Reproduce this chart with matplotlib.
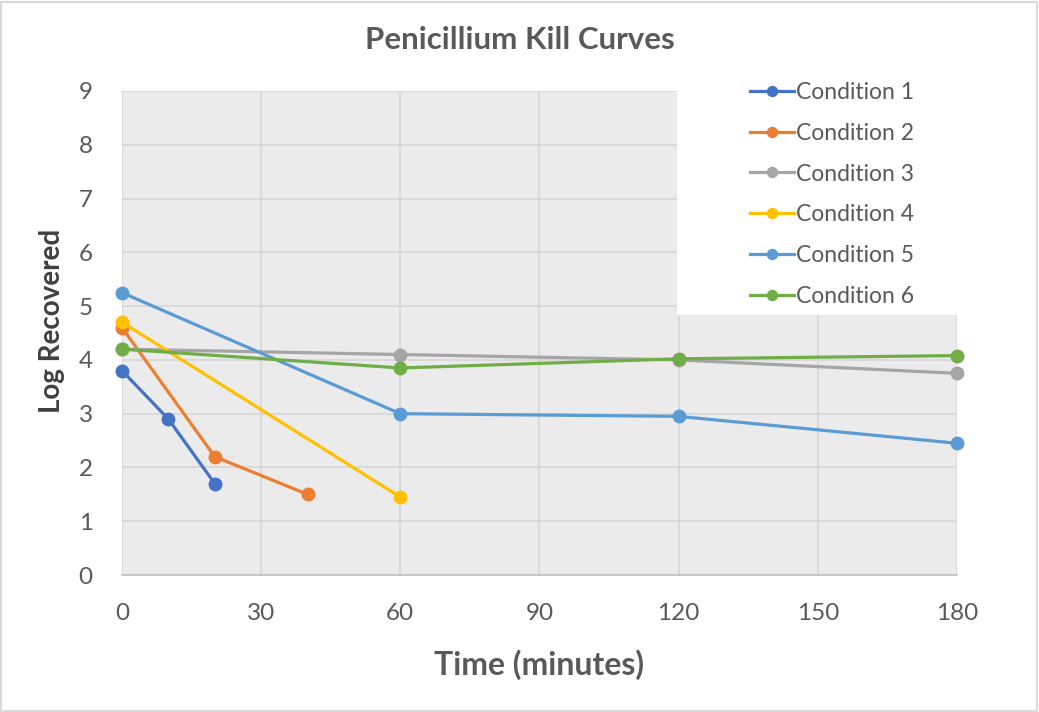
import matplotlib
matplotlib.use("Agg")
import matplotlib.pyplot as plt
from matplotlib.patches import Rectangle

plt.rcParams['font.family'] = ['Lato', 'DejaVu Sans']

# Time points (minutes) and log counts recovered for each condition
t_c1 = [0, 10, 20]
y_c1 = [3.8, 2.9, 1.7]

t_c2 = [0, 20, 40]
y_c2 = [4.6, 2.2, 1.5]

t_c3 = [0, 60, 120, 180]
y_c3 = [4.2, 4.1, 4.0, 3.75]

t_c4 = [0, 60]
y_c4 = [4.7, 1.45]

t_c5 = [0, 60, 120, 180]
y_c5 = [5.25, 3.0, 2.95, 2.45]

t_c6 = [0, 60, 120, 180]
y_c6 = [4.2, 3.85, 4.02, 4.08]

series_names = ["Condition 1", "Condition 2", "Condition 3",
                "Condition 4", "Condition 5", "Condition 6"]
series_colors = ["#4472C4", "#ED7D31", "#A5A5A5", "#FFC000", "#5B9BD5", "#70AD47"]

x_ticks = [0, 30, 60, 90, 120, 150, 180]
y_ticks = list(range(0, 10))

fig = plt.figure(figsize=(10.39, 7.12), dpi=100)
fig.patch.set_facecolor("white")
# thin grey chart border
fig.add_artist(Rectangle((0.001, 0.001), 0.997, 0.996, transform=fig.transFigure,
                         fill=False, edgecolor="#D9D9D9", linewidth=1.5))

ax = fig.add_axes([0.1174, 0.1924, 0.8036, 0.6798])
ax.set_facecolor("#EBEBEB")
ax.set_xlim(0, 180)
ax.set_ylim(0, 9)
ax.set_xticks(x_ticks)
ax.set_yticks(y_ticks)
ax.grid(True, color="#D6D6D6", linewidth=1.2)
ax.set_axisbelow(True)
for side in ["top", "right", "left"]:
    ax.spines[side].set_visible(False)
ax.spines["bottom"].set_color("#BFBFBF")
ax.spines["bottom"].set_linewidth(1.2)
ax.tick_params(length=0, labelsize=17.5, labelcolor="#595959")
ax.tick_params(axis="x", pad=20)
ax.tick_params(axis="y", pad=21)

data = [(t_c1, y_c1), (t_c2, y_c2), (t_c3, y_c3),
        (t_c4, y_c4), (t_c5, y_c5), (t_c6, y_c6)]
handles = []
for (t, y), name, c in zip(data, series_names, series_colors):
    h, = ax.plot(t, y, color=c, linewidth=2.3, marker="o", markersize=9,
                 label=name, clip_on=False, zorder=3)
    handles.append(h)

# white panel behind the legend
ax.add_patch(Rectangle((0.6647, 0.537), 0.37, 0.5, transform=ax.transAxes,
                       facecolor="white", edgecolor="none", clip_on=False, zorder=4))

leg = ax.legend(handles=handles, loc="upper left", bbox_to_anchor=(0.728, 1.061),
                frameon=False, fontsize=16.5, labelcolor="#595959",
                handlelength=1.9, handletextpad=0.1, labelspacing=0.86,
                markerscale=0.8)
leg.set_zorder(5)

fig.text(0.5, 0.944, "Penicillium Kill Curves", fontsize=22.5, fontweight="bold",
         color="#595959", ha="center", va="center")
ax.set_xlabel("Time (minutes)", fontsize=23, fontweight="bold", color="#595959", labelpad=18)
ax.set_ylabel("Log Recovered", fontsize=20, fontweight="bold", color="#404040")
ax.yaxis.set_label_coords(-0.068, 0.525)

fig.savefig("out.png", dpi=100)
